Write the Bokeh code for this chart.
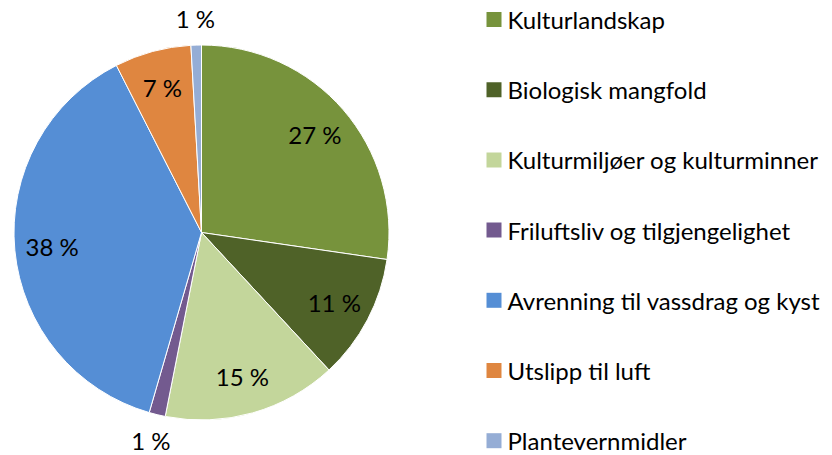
import math
from bokeh.plotting import figure
from bokeh.models import ColumnDataSource, Range1d
from bokeh.core.properties import value
from bokeh.embed import file_html
from bokeh.resources import INLINE

categories = ["Kulturlandskap", "Biologisk mangfold", "Kulturmiljøer og kulturminner",
              "Friluftsliv og tilgjengelighet", "Avrenning til vassdrag og kyst",
              "Utslipp til luft", "Plantevernmidler"]
shares = [27.3, 10.8, 15.0, 1.4, 38.0, 6.6, 0.9]
colors = ["#77933C", "#4F6228", "#C3D69B", "#735A8F", "#558ED5", "#DF8640", "#95ADD5"]

W, H = 832, 455
FONT = "Lato"

p = figure(width=W, height=H, output_backend="svg", toolbar_location=None,
           x_range=Range1d(0, W), y_range=Range1d(0, H), min_border=0)
p.axis.visible = False
p.grid.visible = False
p.outline_line_color = None
p.background_fill_color = "white"

cx, cy, R = 201, 455 - 232, 187.5
total = sum(shares)
starts, ends, lx, ly, labels = [], [], [], [], []
cum = 0.0
for s in shares:
    a0 = math.pi / 2 - 2 * math.pi * cum / total
    a1 = math.pi / 2 - 2 * math.pi * (cum + s) / total
    starts.append(a0)
    ends.append(a1)
    mid = (a0 + a1) / 2
    r = R * (1.14 if s < 2 else 0.8)
    lx.append(cx + r * math.cos(mid))
    ly.append(cy + r * math.sin(mid))
    labels.append(f"{int(s + 0.5)} %")
    cum += s

src = ColumnDataSource(dict(start=starts, end=ends, color=colors))
p.wedge(x=cx, y=cy, radius=R, start_angle="start", end_angle="end", direction="clock",
        fill_color="color", line_color="white", line_width=1, source=src)

p.text(x=lx, y=ly, text=labels, text_align="center", text_baseline="middle",
       text_font=value(FONT), text_font_size="24px", text_color="#000000")

# legend
leg_x = 486
leg_top = H - 19
step = 70.2
ys = [leg_top - i * step for i in range(len(categories))]
p.rect(x=[leg_x + 7.5] * len(categories), y=ys, width=15, height=15,
       fill_color=colors, line_color=None)
p.text(x=[leg_x + 21] * len(categories), y=ys, text=categories, text_align="left",
       text_baseline="middle", text_font=value(FONT), text_font_size="24px",
       text_color="#000000")

open("out.html", "w").write(file_html(p, INLINE))
